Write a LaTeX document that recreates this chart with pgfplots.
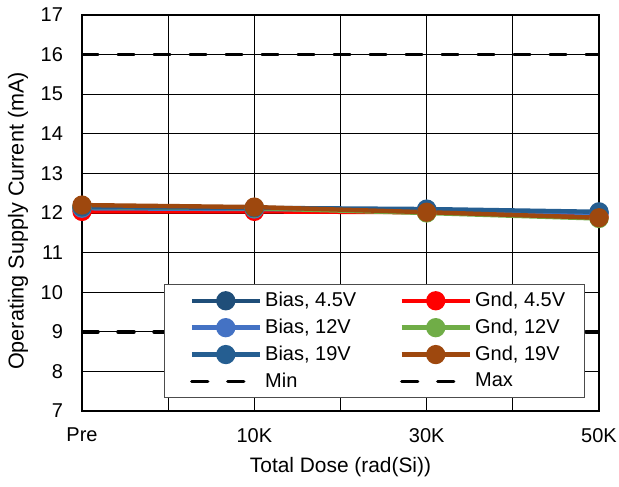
\documentclass[border=0pt]{standalone}
\usepackage{pgfplots}
\pgfplotsset{compat=1.18}
\usepackage{fontspec}
\setmainfont{Liberation Sans}
\definecolor{b45}{RGB}{31,78,121}
\definecolor{b12}{RGB}{68,114,196}
\definecolor{b19}{RGB}{37,94,145}
\definecolor{g45}{RGB}{255,0,0}
\definecolor{g12}{RGB}{112,173,71}
\definecolor{g19}{RGB}{158,72,14}
\begin{document}
\begin{tikzpicture}
\useasboundingbox (-41pt,-37.5pt) rectangle (268.5pt,205.5pt);
\begin{axis}[
  scale only axis, width=258.5pt, height=198pt,
  xmin=0, xmax=3, ymin=7, ymax=17,
  xtick={0,1,2,3}, xticklabels={Pre,10K,30K,50K},
  minor xtick={0.5,1.5,2.5},
  ytick={7,8,...,17},
  xmajorgrids, xminorgrids, ymajorgrids,
  major grid style={black, line width=0.6pt},
  minor grid style={black, line width=0.6pt},
  major tick length=0pt, minor tick length=0pt,
  axis line style={black, line width=0.9pt},
  /pgf/number format/assume math mode=true,
  font=\fontsize{10}{12}\selectfont,
  tick label style={font=\fontsize{10}{12}\selectfont},
  yticklabel style={xshift=-6pt},
  xticklabel style={yshift=-5pt},
  every axis y label/.style={at={([xshift=-32pt,yshift=-4pt]axis description cs:0,0.5)}, rotate=90, anchor=center, font=\fontsize{10.8}{13}\selectfont},
  every axis x label/.style={at={([yshift=-28pt]axis description cs:0.5,0)}, anchor=center, font=\fontsize{10.45}{12.5}\selectfont},
  ylabel={Operating Supply Current (mA)},
  xlabel={Total Dose (rad(Si))},
  legend columns=2,
  legend cell align=left,
  legend style={at={([xshift=-7pt,yshift=6.5pt]axis description cs:1,0)}, anchor=south east,
    draw=black!70, line width=0.6pt, fill=white, inner xsep=8pt, inner ysep=2pt,
    row sep=1.5pt, nodes={inner sep=1.6pt},
    font=\fontsize{10}{12}\selectfont,
    /tikz/every even column/.append style={column sep=15.5pt}},
  legend image code/.code={%
    \path (-4.5pt,0pt);
    \draw[mark repeat=2,mark phase=2,#1] plot coordinates {(0pt,0pt)(17pt,0pt)(34pt,0pt)};},
  every axis plot/.append style={line width=2.2pt, mark=*, mark size=3.7pt, mark options={solid}},
]
\addplot[color=b45] coordinates {(0,12.12) (1,12.10) (2,12.08) (3,12.00)};
\addlegendentry{Bias, 4.5V}
\addplot[color=g45] coordinates {(0,12.04) (1,12.04) (2,12.02) (3,11.90)};
\addlegendentry{Gnd, 4.5V}
\addplot[color=b12] coordinates {(0,12.12) (1,12.10) (2,12.08) (3,12.00)};
\addlegendentry{Bias, 12V}
\addplot[color=g12] coordinates {(0,12.15) (1,12.12) (2,12.00) (3,11.86)};
\addlegendentry{Gnd, 12V}
\addplot[color=b19] coordinates {(0,12.15) (1,12.13) (2,12.10) (3,12.03)};
\addlegendentry{Bias, 19V}
\addplot[color=g19] coordinates {(0,12.20) (1,12.15) (2,12.02) (3,11.88)};
\addlegendentry{Gnd, 19V}
\addplot[black, line width=1.75pt, mark=none, line cap=round, dash pattern=on 8pt off 10pt] coordinates {(0,9) (3,9)};
\addlegendentry{Min}
\addplot[black, line width=1.75pt, mark=none, line cap=round, dash pattern=on 8pt off 10pt] coordinates {(0,16) (3,16)};
\addlegendentry{Max}
\end{axis}
\end{tikzpicture}
\end{document}
